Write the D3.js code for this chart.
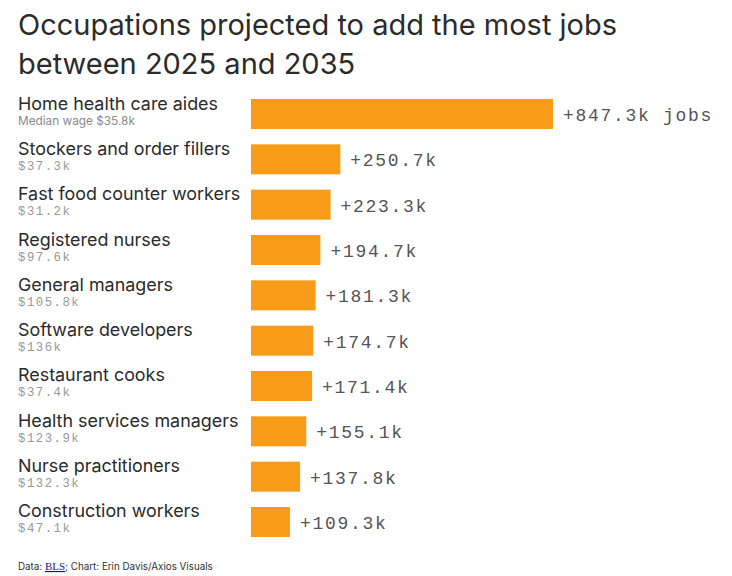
<!DOCTYPE html>
<html>
<head>
<meta charset="utf-8">
<script src="https://cdn.jsdelivr.net/npm/d3@7"></script>
<style>
  body { margin: 0; background: #fff; }
  svg { display: block; }
</style>
</head>
<body>
<script>
var width = 732;
var height = 576;

// Data
var occupations = [
    "Home health care aides",
    "Stockers and order fillers",
    "Fast food counter workers",
    "Registered nurses",
    "General managers",
    "Software developers",
    "Restaurant cooks",
    "Health services managers",
    "Nurse practitioners",
    "Construction workers"
];
var jobsAdded = [847.3, 250.7, 223.3, 194.7, 181.3, 174.7, 171.4, 155.1, 137.8, 109.3];
var wages = ["$35.8k", "$37.3k", "$31.2k", "$97.6k", "$105.8k", "$136k", "$37.4k", "$123.9k", "$132.3k", "$47.1k"];
var titleLines = ["Occupations projected to add the most jobs", "between 2025 and 2035"];

var sans = "Inter, 'Noto Sans', sans-serif";
var mono = "'Liberation Mono', 'DejaVu Sans Mono', monospace";

var data = occupations.map((name, i) => ({name: name, value: jobsAdded[i], wage: wages[i]}));

const svg = d3.select("body")
    .append("svg")
    .attr("width", width)
    .attr("height", height);

// Title
svg.append("g").selectAll("text")
    .data(titleLines)
    .enter().append("text")
    .attr("x", 18)
    .attr("y", (d, i) => 35 + i * 39)
    .attr("font-family", sans)
    .attr("font-size", 29)
    .attr("fill", "#2b2b2b")
    .text(d => d);

// Scales
var x = d3.scaleLinear()
    .domain([0, d3.max(jobsAdded)])
    .range([251, 553]);

var y = d3.scaleBand()
    .domain(occupations)
    .range([91.35, 544.65])
    .paddingInner(0.338)
    .paddingOuter(0.169);

var rows = svg.append("g").selectAll("g")
    .data(data)
    .enter().append("g");

// Bars
rows.append("rect")
    .attr("x", x(0))
    .attr("y", d => y(d.name))
    .attr("width", d => x(d.value) - x(0))
    .attr("height", y.bandwidth())
    .attr("fill", "#f89c17");

// Names
rows.append("text")
    .attr("x", 18)
    .attr("y", d => y(d.name) + 10.5)
    .attr("font-family", sans)
    .attr("font-size", 17.9)
    .attr("fill", "#2b2b2b")
    .text(d => d.name);

// Wages
rows.append("text")
    .attr("x", 18)
    .attr("y", d => y(d.name) + 25.5)
    .attr("fill", "#999")
    .each(function(d, i) {
        var t = d3.select(this);
        if (i === 0) {
            t.attr("font-family", sans)
                .attr("font-size", 11.8)
                .attr("fill", "#8a8a8a")
                .text("Median wage " + d.wage);
        } else {
            t.attr("font-family", mono)
                .attr("font-size", 12.3)
                .attr("letter-spacing", 1.5)
                .text(d.wage);
        }
    });

// Value labels
rows.append("text")
    .attr("x", d => x(d.value) + 10)
    .attr("y", d => y(d.name) + 22)
    .attr("font-family", mono)
    .attr("font-size", 18)
    .attr("letter-spacing", 1.7)
    .attr("fill", "#555")
    .text((d, i) => "+" + d.value + "k" + (i === 0 ? " jobs" : ""));

// Footer
var foot = svg.append("text")
    .attr("x", 18)
    .attr("y", 570)
    .attr("font-family", sans)
    .attr("font-size", 9.8)
    .attr("fill", "#333");
foot.append("tspan").text("Data: ");
foot.append("tspan")
    .attr("font-family", "'Liberation Serif', serif")
    .attr("font-size", 11)
    .attr("fill", "#1a0dab")
    .attr("text-decoration", "underline")
    .text("BLS");
foot.append("tspan").text("; Chart: Erin Davis/Axios Visuals");
</script>
</body>
</html>
